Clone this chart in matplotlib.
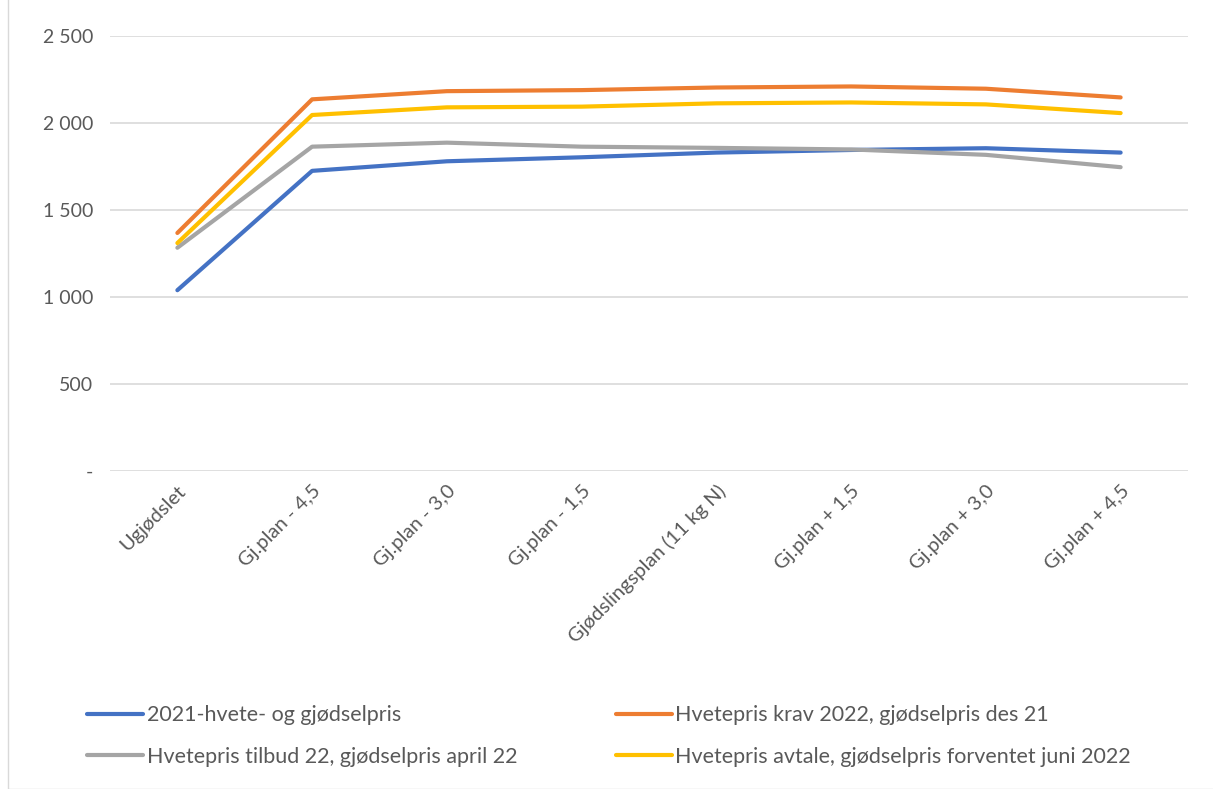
import matplotlib
matplotlib.use("Agg")
import matplotlib.pyplot as plt
from matplotlib.patches import Rectangle

categories = ["Ugjødslet", "Gj.plan - 4,5", "Gj.plan - 3,0", "Gj.plan - 1,5",
              "Gjødslingsplan (11 kg N)", "Gj.plan + 1,5", "Gj.plan + 3,0", "Gj.plan + 4,5"]
s2021 = [1039, 1725, 1780, 1803, 1830, 1845, 1855, 1830]
krav22 = [1368, 2136, 2183, 2189, 2204, 2210, 2197, 2147]
tilbud22 = [1283, 1864, 1887, 1864, 1857, 1848, 1817, 1746]
avtale22 = [1310, 2046, 2090, 2094, 2113, 2118, 2107, 2057]
names = ["2021-hvete- og gjødselpris", "Hvetepris krav 2022, gjødselpris des 21",
         "Hvetepris tilbud 22, gjødselpris april 22", "Hvetepris avtale, gjødselpris forventet juni 2022"]
yticks = [0, 500, 1000, 1500, 2000, 2500]
ylabels = ["-", "500", "1 000", "1 500", "2 000", "2 500"]

plt.rcParams['font.family'] = ['Lato', 'DejaVu Sans']
txt = '#595959'

fig = plt.figure(figsize=(12.13, 7.89), dpi=100)
ax = fig.add_axes([110/1213, 1-471/789, (1188-110)/1213, (471-36)/789])
x = list(range(len(categories)))
colors = ['#4472C4', '#ED7D31', '#A5A5A5', '#FFC000']
series = [s2021, krav22, tilbud22, avtale22]
lines = []
for s, c, n in zip(series, colors, names):
    l, = ax.plot(x, s, color=c, lw=3.0, solid_capstyle='round', solid_joinstyle='round', label=n)
    lines.append(l)

ax.set_xlim(-0.5, 7.5)
ax.set_ylim(0, 2500)
ax.set_yticks(yticks)
ax.set_yticklabels(ylabels, fontsize=14, color=txt)
ax.set_xticks(x)
ax.set_xticklabels(categories, rotation=45, ha='right', rotation_mode='anchor', fontsize=14.5, color=txt)
ax.tick_params(length=0, pad=12)
ax.tick_params(axis='x', pad=8)
for sp in ax.spines.values():
    sp.set_visible(False)
ax.grid(axis='y', color='#D9D9D9', lw=1.2)
ax.set_axisbelow(True)

# legend, row-wise order
order = [0, 2, 1, 3]
fig.legend(handles=[lines[i] for i in order],
           labels=[names[i] for i in order],
           ncol=2, loc='center left', bbox_to_anchor=(68/1213, 1-736/789),
           frameon=False, fontsize=15.5, handlelength=2.6, handletextpad=0.15,
           columnspacing=4.6, labelspacing=1.0, labelcolor=txt)

fig.patches.append(Rectangle((8/1213, 0), 1.2, 1.2, transform=fig.transFigure,
                             fill=False, edgecolor='#D9D9D9', lw=1))
fig.savefig("out.png", dpi=100)
